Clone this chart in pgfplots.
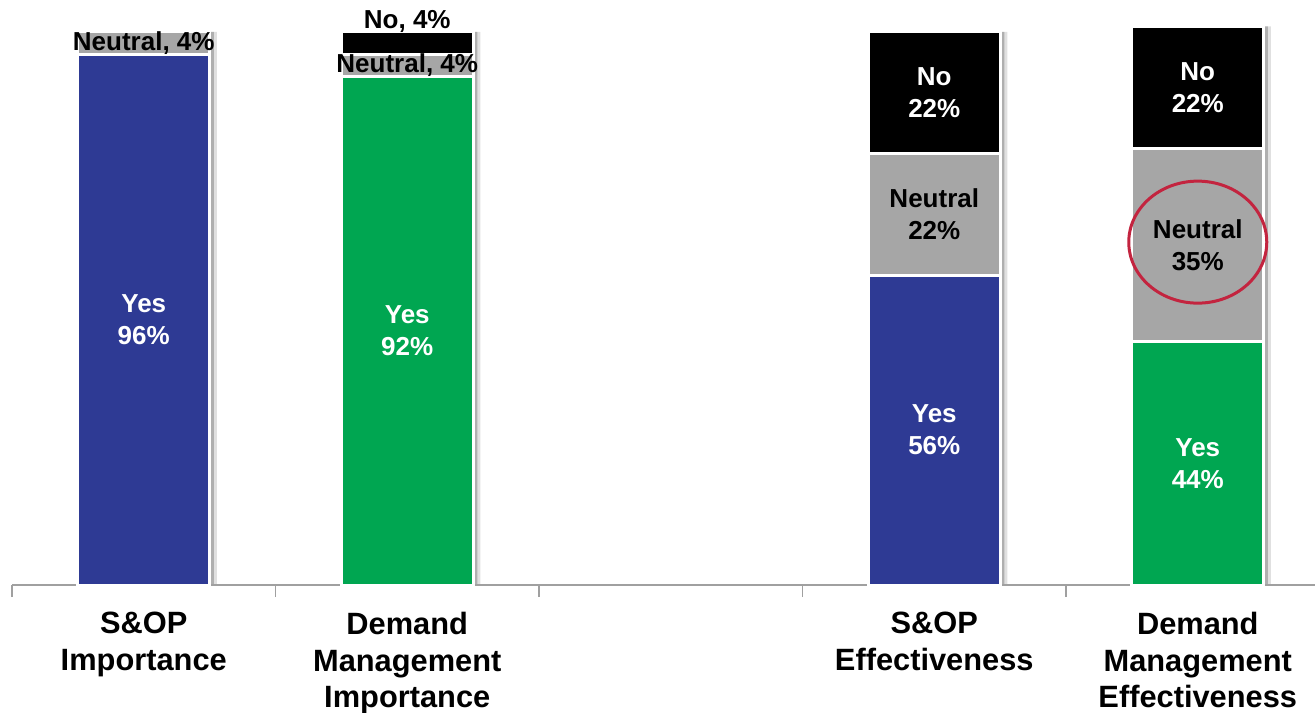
\documentclass[border=0pt]{standalone}
\usepackage{fontspec}
\setmainfont{Liberation Sans}
\usepackage{pgfplots}
\usepackage{pgfplotstable}
\pgfplotsset{compat=1.18}

\definecolor{sopblue}{HTML}{2E3A94}
\definecolor{dmgreen}{HTML}{00A651}
\definecolor{neutralgray}{HTML}{A6A6A6}
\definecolor{circlered}{HTML}{C3243F}
\definecolor{axisgray}{HTML}{A0A0A0}

% Survey shares (%) per question; blue = S&OP, green = demand management
\pgfplotstableread{
x blue green neutral no total
0 96 0  4  0  100
1 0  92 4  4  100
3 56 0  22 22 100
4 0  44 35 22 101
}\survey

\pgfplotsset{
  surveyframe/.style={
    at={(6pt,63.5pt)}, anchor=south west, scale only axis,
    x=131.75pt, y=2.765pt,
    xmin=-0.5, xmax=4.445, ymin=0, ymax=101,
    clip=false,
  },
}
\tikzset{seglabel/.style={font=\bfseries\fontsize{13}{16}\selectfont, align=center, inner sep=1pt}}

\begin{document}
\begin{tikzpicture}
\path[use as bounding box] (0,0) rectangle (657.5pt,356pt);

% soft shadows to the right of each bar
\begin{axis}[surveyframe, axis lines=none, xtick=\empty, ytick=\empty]
  \addplot[ybar, bar width=65pt, bar shift=4pt, fill=black, opacity=0.12, draw=none]
    table[x=x, y=total] {\survey};
  \addplot[ybar, bar width=65pt, bar shift=2.5pt, fill=black, opacity=0.22, draw=none]
    table[x=x, y=total] {\survey};
\end{axis}

% stacked bars and category axis
\begin{axis}[surveyframe,
  ybar stacked, bar width=66pt,
  axis x line*=bottom, axis y line=none,
  x axis line style={axisgray, line width=0.6pt, -},
  xtick={0,1,3,4},
  xticklabels={{S\&OP\\Importance},{Demand\\Management\\Importance},{S\&OP\\Effectiveness},{Demand\\Management\\Effectiveness}},
  minor xtick={-0.5,0.5,1.5,2.5,3.5},
  xtick align=outside,
  major tick length=0pt, minor tick length=6pt,
  minor tick style={axisgray, line width=0.6pt},
  xticklabel style={font=\bfseries\fontsize{15.4}{18.2}\selectfont,
    align=center, anchor=north, inner sep=0pt, yshift=-13.5pt},
]
  \addplot[fill=sopblue, draw=white, line width=1.5pt] table[x=x, y=blue] {\survey};
  \addplot[fill=dmgreen, draw=white, line width=1.5pt] table[x=x, y=green] {\survey};
  \addplot[fill=neutralgray, draw=white, line width=1.5pt] table[x=x, y=neutral] {\survey};
  \addplot[fill=black, draw=white, line width=1.5pt] table[x=x, y=no] {\survey};
\end{axis}

% segment labels and highlight, on top of the bars
\begin{axis}[surveyframe, axis lines=none, xtick=\empty, ytick=\empty]
  \node[seglabel, white] at (axis cs:0,48) {Yes\\96\%};
  \node[seglabel] at (axis cs:0,98) {Neutral, 4\%};
  \node[seglabel, white] at (axis cs:1,46) {Yes\\92\%};
  \node[seglabel] at (axis cs:1,94) {Neutral, 4\%};
  \node[seglabel, anchor=base, yshift=1.5pt] at (axis cs:1,100) {No, 4\%};
  \node[seglabel, white] at (axis cs:3,28) {Yes\\56\%};
  \node[seglabel] at (axis cs:3,67) {Neutral\\22\%};
  \node[seglabel, white] at (axis cs:3,89) {No\\22\%};
  \node[seglabel, white] at (axis cs:4,22) {Yes\\44\%};
  \node[seglabel] at (axis cs:4,61.5) {Neutral\\35\%};
  \node[seglabel, white] at (axis cs:4,90) {No\\22\%};
  \draw[circlered, line width=1.5pt] (axis cs:4,62) ellipse [x radius=34.5pt, y radius=30.5pt];
\end{axis}
\end{tikzpicture}
\end{document}
